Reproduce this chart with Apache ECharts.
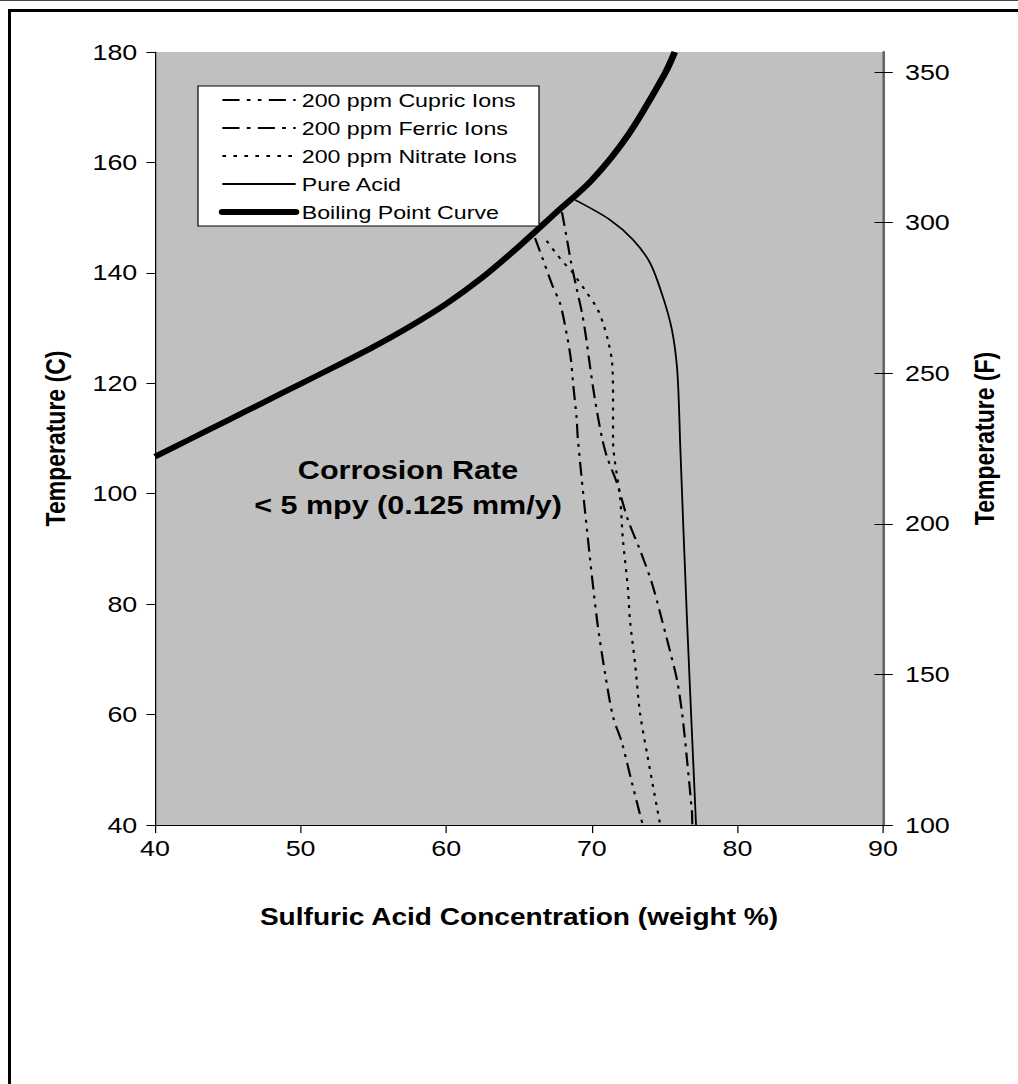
<!DOCTYPE html>
<html>
<head>
<meta charset="utf-8">
<script src="https://cdn.jsdelivr.net/npm/echarts@6/dist/echarts.min.js"></script>
<style>
  html, body { margin: 0; padding: 0; background: #fff; overflow: hidden; }
  /* the source picture is stretched sideways, so draw narrower and stretch */
  #chart { width: 834px; height: 1084px; transform: scaleX(1.220624); transform-origin: 0 0; }
  #topline { position: absolute; left: 0; top: 0; width: 1018px; height: 0; border-top: 1px solid #444; }
  #frame { position: absolute; left: 8px; top: 9px; width: 1010px; height: 1075px;
           border-top: 3px solid #000; border-left: 3px solid #000; box-sizing: border-box; pointer-events: none; }
</style>
</head>
<body>
<div id="chart"></div>
<div id="topline"></div>
<div id="frame"></div>
<script>
// concentration (wt %) / temperature (C) pairs
const boilingPoint = [[40, 106.7], [42.5, 110], [45, 113.3], [47.5, 116.6], [50, 119.9], [52.5, 123.2], [55, 126.6], [57.5, 130.3], [60, 134.4], [62.5, 139.2], [65, 144.8], [67.5, 150.8], [70, 156.8], [72.5, 165], [75, 176], [75.7, 180]]
const pureAcid = [[68.85, 153.2], [71.25, 149.6], [72.83, 146.0], [74.0, 141.8], [74.89, 135.6], [75.51, 129.6], [75.85, 123], [75.99, 115.7], [76.06, 109.7], [76.54, 77.1], [77.16, 40]]
const cupric = [[66.1, 146.3], [66.58, 142.9], [67.34, 137.4], [67.82, 134.5], [68.3, 128.6], [68.57, 124.2], [68.71, 120.1], [68.95, 113.9], [69.05, 109.7], [69.67, 93.4], [70.36, 77.1], [70.91, 67.5], [71.46, 59.6], [72.07, 54.9], [72.76, 47.6], [73.5, 40]]
const ferric = [[67.95, 151.0], [68.3, 146.0], [68.57, 142.0], [68.98, 136.9], [69.33, 132.7], [69.6, 128.4], [69.88, 123.0], [70.22, 117.0], [70.7, 110.1], [71.04, 106.7], [71.73, 101.9], [72.49, 95.2], [73.31, 89.8], [74.13, 83.8], [74.82, 77.1], [75.4, 71.2], [75.85, 66.3], [76.2, 60.3], [76.54, 51.8], [76.88, 42.2], [76.9, 40]]
const nitrate = [[66.9, 145.8], [67.47, 143.8], [68.02, 142.0], [68.64, 140.2], [69.05, 138.7], [69.53, 136.9], [70.36, 133.6], [70.77, 130.9], [71.11, 127.8], [71.39, 123.9], [71.46, 117.5], [71.46, 109.7], [71.94, 99.4], [72.14, 91.6], [72.49, 82.6], [72.62, 77.1], [72.97, 69.3], [73.31, 60.3], [73.79, 53.0], [74.7, 40]]

const fahrenheitTicks = [100, 150, 200, 250, 300, 350]
const font = 'Liberation Sans, Arial, sans-serif'
const sx = 1.220624 // sideways stretch of the page

const chart = echarts.init(document.getElementById('chart'), null, { renderer: 'svg' })

const lineSeries = (name, data, width, type) => ({
  name,
  type: 'line',
  data,
  smooth: 0.3,
  symbol: 'none',
  showSymbol: false,
  clip: true,
  itemStyle: { color: '#000' },
  lineStyle: { color: '#000', width, type },
  emphasis: { disabled: true }
})

chart.setOption({
  animation: false,
  textStyle: { fontFamily: font },
  grid: {
    left: 155 / sx, right: 135 / sx, top: 52, bottom: 259,
    show: true, backgroundColor: '#C0C0C0', borderWidth: 0
  },
  legend: {
    orient: 'vertical',
    left: 198 / sx, top: 86,
    backgroundColor: '#fff',
    borderColor: '#000', borderWidth: 1,
    padding: [4.5, 18, 4.5, 17],
    itemWidth: 60, itemHeight: 14, itemGap: 9,
    itemStyle: { opacity: 0 },
    textStyle: { fontSize: 19, color: '#000', fontFamily: font },
    data: [
      { name: '200 ppm Cupric Ions', lineStyle: { width: 2 } },
      { name: '200 ppm Ferric Ions', lineStyle: { width: 2 } },
      { name: '200 ppm Nitrate Ions', lineStyle: { width: 2 } },
      { name: 'Pure Acid', lineStyle: { width: 2 } },
      { name: 'Boiling Point Curve', lineStyle: { width: 6, cap: 'round' } }
    ]
  },
  xAxis: {
    type: 'value', min: 40, max: 90, interval: 10,
    name: 'Sulfuric Acid Concentration (weight %)',
    nameLocation: 'middle', nameGap: 80,
    nameTextStyle: { fontSize: 23, fontWeight: 'bold', color: '#000' },
    axisLine: { lineStyle: { color: '#000', width: 1 } },
    axisTick: { length: 8, lineStyle: { color: '#000' } },
    axisLabel: { fontSize: 22, color: '#000', margin: 12 },
    splitLine: { show: false }
  },
  yAxis: [{
    type: 'value', min: 40, max: 180, interval: 20,
    name: 'Temperature (C)',
    nameLocation: 'middle', nameGap: 70,
    nameTextStyle: { fontSize: 23, fontWeight: 'bold', color: '#000' },
    axisLine: { show: true, lineStyle: { color: '#000', width: 1 } },
    axisTick: { show: true, length: 7, lineStyle: { color: '#000' } },
    axisLabel: { fontSize: 22, color: '#000', margin: 14.5 },
    splitLine: { show: false }
  }, {
    type: 'value', position: 'right', min: 100, max: 356.7,
    alignTicks: false,
    name: 'Temperature (F)',
    nameLocation: 'middle', nameGap: 71,
    nameRotate: 90,
    nameTextStyle: { fontSize: 23, fontWeight: 'bold', color: '#000' },
    axisLine: { show: true, lineStyle: { color: '#606060', width: 2 } },
    axisTick: { show: true, length: 8, customValues: fahrenheitTicks, lineStyle: { color: '#000' } },
    axisLabel: { fontSize: 22, color: '#000', margin: 18, customValues: fahrenheitTicks },
    splitLine: { show: false }
  }, {
    // inner half of the crossing ticks on the right
    type: 'value', position: 'right', min: 100, max: 356.7,
    alignTicks: false,
    axisLine: { show: false },
    axisTick: { show: true, inside: true, length: 7, customValues: fahrenheitTicks, lineStyle: { color: '#000' } },
    axisLabel: { show: false },
    splitLine: { show: false }
  }],
  series: [
    lineSeries('200 ppm Cupric Ions', cupric, 1.8, [14, 6, 3, 6, 3, 6]),
    lineSeries('200 ppm Ferric Ions', ferric, 1.8, [14, 6, 3, 6]),
    lineSeries('200 ppm Nitrate Ions', nitrate, 1.8, [3, 6]),
    lineSeries('Pure Acid', pureAcid, 1.5, 'solid'),
    lineSeries('Boiling Point Curve', boilingPoint, 5.5, 'solid')
  ],
  graphic: [
    {
      type: 'text', x: 408 / sx, y: 453,
      style: {
        text: 'Corrosion Rate\n< 5 mpy (0.125 mm/y)',
        font: 'bold 25px ' + font,
        fill: '#000', align: 'center', verticalAlign: 'top', lineHeight: 35
      }
    }
  ]
})

window.addEventListener('resize', () => {
  chart.resize()
})
</script>
</body>
</html>
